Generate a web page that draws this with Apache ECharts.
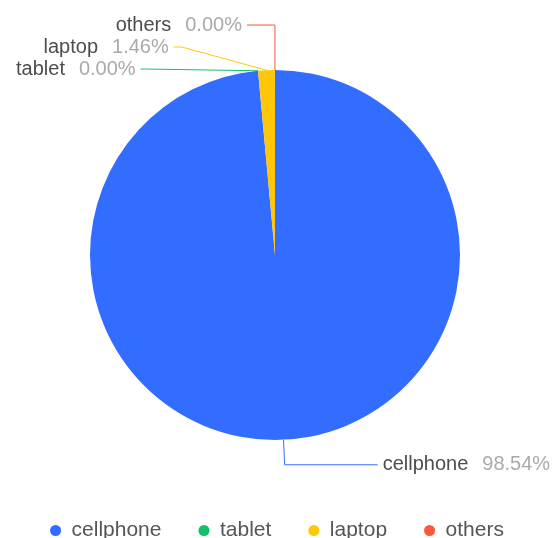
<!DOCTYPE html>
<html><head><meta charset="utf-8">
<script src="https://cdn.jsdelivr.net/npm/echarts@6/dist/echarts.min.js"></script>
<style>html,body{margin:0;padding:0;background:#fff}#c{width:554px;height:538px}</style>
</head><body><div id="c"></div>
<script>
const categories = ['cellphone', 'tablet', 'laptop', 'others'];
const values = [98.54, 0, 1.46, 0];
const colors = ['#336dff', '#14c06a', '#ffc60a', '#f8593e'];

// per-slice label-line lengths (style only)
const lineLen = [[25, 93], [45, 4], [45, 8], [45, 28]];

const total = values.reduce((a, b) => a + b, 0);
const FONT = '"Liberation Sans", Arial, sans-serif';
const chart = echarts.init(document.getElementById('c'));
chart.setOption({
  animation: false,
  color: colors,
  legend: {
    top: 515,
    left: 'center',
    icon: 'circle',
    itemWidth: 22,
    itemHeight: 11,
    itemGap: 37,
    textStyle: { fontSize: 21, color: '#555', fontFamily: FONT },
    data: categories
  },
  series: [{
    type: 'pie',
    center: [275, 255],
    radius: [0, 185],
    startAngle: 90.01,
    data: categories.map((c, i) => ({
      name: c, value: values[i],
      labelLine: { length: lineLen[i][0], length2: lineLen[i][1] }
    })),
    label: {
      overflow: 'none',
      formatter: p => '{n|' + p.name + '}{p|' + (p.value / total * 100).toFixed(2) + '%}',
      rich: {
        n: { fontSize: 20, color: '#4d4d4d', fontFamily: FONT },
        p: { fontSize: 20, color: '#aaa', fontFamily: FONT, padding: [0, 0, 0, 14] }
      }
    },
    labelLine: { length: 25, length2: 30, lineStyle: { width: 1 } }
  }]
});
</script></body></html>
